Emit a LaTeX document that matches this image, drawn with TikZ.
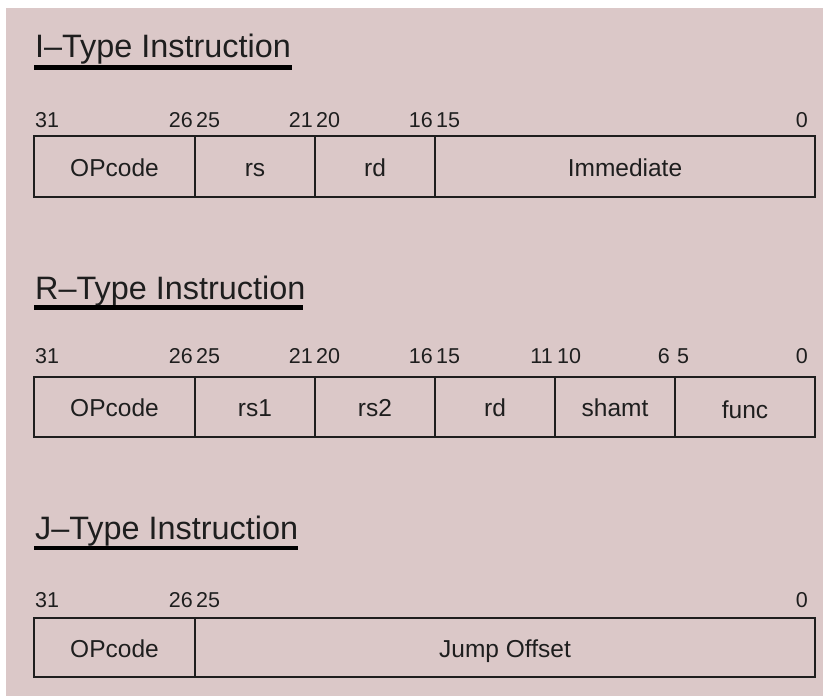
\documentclass[tikz,border=0pt]{standalone}
\usepackage{fontspec}
\setmainfont{Liberation Sans}
\definecolor{bgpink}{RGB}{219,200,200}
\definecolor{ink}{RGB}{30,30,30}
\begin{document}
\begin{tikzpicture}[x=1pt,y=-1pt,
  title/.style={anchor=base west,inner sep=0,text=ink,font=\fontsize{32.4}{38}\selectfont},
  uline/.style={line width=4.5pt,black},
  bitnum/.style={inner sep=0,text=ink,font=\fontsize{21.5}{26}\selectfont},
  field/.style={draw=ink,line width=1.8pt,outer sep=0,inner sep=0,anchor=north west,
     text=ink,font=\fontsize{24.5}{29}\selectfont,text height=24pt,text depth=5pt}]
\useasboundingbox (0,0) rectangle (823,696);
\fill[white] (0,0) rectangle (823,696);
\fill[bgpink] (6,8) rectangle (823,696);

% ---------- I-Type ----------
\node[title] (it) at (35,57) {I–Type Instruction};
\draw[uline] (34,67.5) -- (292,67.5);
\node[bitnum,anchor=base west] (ib31) at (35,127) {31};
\node[bitnum,anchor=base east] (ib26) at (193,127) {26};
\node[bitnum,anchor=base west] (ib25) at (196,127) {25};
\node[bitnum,anchor=base east] (ib21) at (313,127) {21};
\node[bitnum,anchor=base west] (ib20) at (316,127) {20};
\node[bitnum,anchor=base east] (ib16) at (433,127) {16};
\node[bitnum,anchor=base west] (ib15) at (436,127) {15};
\node[bitnum,anchor=base east] (ib0) at (808,127) {0};
\node[field,minimum width=161pt,minimum height=61pt] (iop) at (34,136) {OPcode};
\node[field,minimum width=120pt,minimum height=61pt] (irs) at (195,136) {rs};
\node[field,minimum width=120pt,minimum height=61pt] (ird) at (315,136) {rd};
\node[field,minimum width=380pt,minimum height=61pt] (iim) at (435,136) {Immediate};

% ---------- R-Type ----------
\node[title] (rt) at (35,299) {R–Type Instruction};
\draw[uline] (34,307.5) -- (303,307.5);
\node[bitnum,anchor=base west] (rb31) at (35,363) {31};
\node[bitnum,anchor=base east] (rb26) at (193,363) {26};
\node[bitnum,anchor=base west] (rb25) at (196,363) {25};
\node[bitnum,anchor=base east] (rb21) at (313,363) {21};
\node[bitnum,anchor=base west] (rb20) at (316,363) {20};
\node[bitnum,anchor=base east] (rb16) at (433,363) {16};
\node[bitnum,anchor=base west] (rb15) at (436,363) {15};
\node[bitnum,anchor=base east] (rb11) at (553,363) {11};
\node[bitnum,anchor=base west] (rb10) at (557,363) {10};
\node[bitnum,anchor=base east] (rb6) at (670,363) {6};
\node[bitnum,anchor=base west] (rb5) at (677,363) {5};
\node[bitnum,anchor=base east] (rb0) at (808,363) {0};
\node[field,minimum width=161pt,minimum height=60pt] (rop) at (34,377) {OPcode};
\node[field,minimum width=120pt,minimum height=60pt] (rrs1) at (195,377) {rs1};
\node[field,minimum width=120pt,minimum height=60pt] (rrs2) at (315,377) {rs2};
\node[field,minimum width=120pt,minimum height=60pt] (rrd) at (435,377) {rd};
\node[field,minimum width=120pt,minimum height=60pt] (rsh) at (555,377) {shamt};
\node[field,minimum width=140pt,minimum height=60pt,text height=27pt] (rfn) at (675,377) {func};

% ---------- J-Type ----------
\node[title] (jt) at (35,539) {J–Type Instruction};
\draw[uline] (34,548) -- (298,548);
\node[bitnum,anchor=base west] (jb31) at (35,607) {31};
\node[bitnum,anchor=base east] (jb26) at (193,607) {26};
\node[bitnum,anchor=base west] (jb25) at (196,607) {25};
\node[bitnum,anchor=base east] (jb0) at (808,607) {0};
\node[field,minimum width=161pt,minimum height=59pt] (jop) at (34,618) {OPcode};
\node[field,minimum width=620pt,minimum height=59pt] (jjo) at (195,618) {Jump Offset};
\end{tikzpicture}
\end{document}
